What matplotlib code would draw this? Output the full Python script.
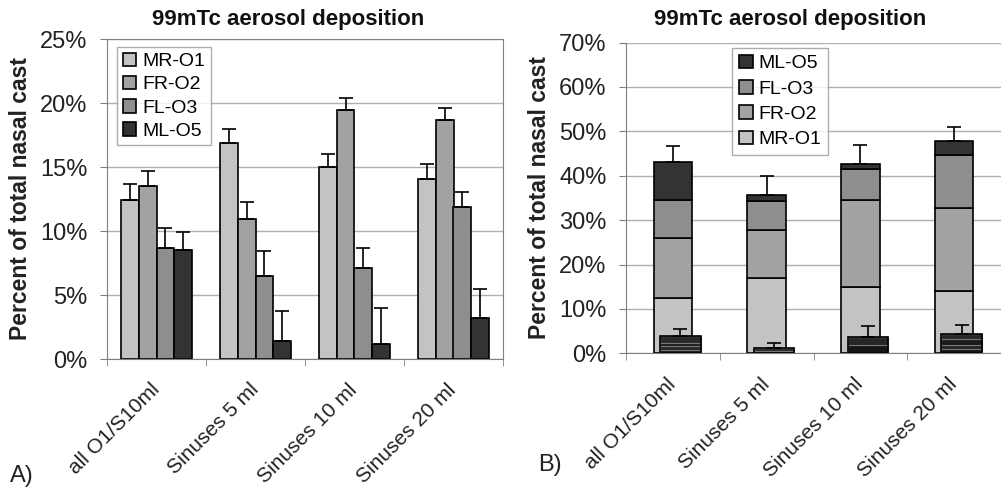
import numpy as np
import matplotlib
matplotlib.use("Agg")
import matplotlib.pyplot as plt
from matplotlib.ticker import PercentFormatter, FixedLocator

plt.rcParams['font.family'] = ['Liberation Sans', 'DejaVu Sans']

# data (percent of total nasal cast)
groups = ["all O1/S10ml", "Sinuses 5 ml", "Sinuses 10 ml", "Sinuses 20 ml"]
series = ["MR-O1", "FR-O2", "FL-O3", "ML-O5"]
mr_o1 = [12.4, 16.9, 15.0, 14.1]
fr_o2 = [13.5, 10.9, 19.45, 18.7]
fl_o3 = [8.7, 6.5, 7.1, 11.85]
ml_o5 = [8.5, 1.4, 1.15, 3.2]
mr_o1_err = [1.3, 1.1, 1.0, 1.1]
fr_o2_err = [1.2, 1.4, 0.95, 0.9]
fl_o3_err = [1.5, 1.9, 1.6, 1.2]
ml_o5_err = [1.4, 2.35, 2.85, 2.3]

# panel B: total error and small dark inset stack
total_err = [3.5, 4.2, 4.3, 3.1]
small_seg1 = [0.85, 0.55, 1.9, 0.9]
small_seg2 = [0.75, 0.55, 1.85, 1.05]
small_seg3 = [0.7, 0.0, 0.0, 1.2]
small_seg4 = [1.65, 0.0, 0.0, 1.2]
small_err = [1.55, 1.15, 2.4, 2.05]

colors = ['#c3c3c3', '#a2a2a2', '#8e8e8e', '#333333']
grid_c = '#b0b0b0'
spine_c = '#808080'

fig = plt.figure(figsize=(10.01, 4.92), dpi=100)

def style_axes(ax, ymax, step):
    ax.set_ylim(0, ymax)
    ax.yaxis.set_major_locator(FixedLocator(np.arange(0, ymax + 0.01, step)))
    ax.yaxis.set_major_formatter(PercentFormatter(decimals=0))
    ax.yaxis.grid(True, color=grid_c, lw=1)
    ax.set_axisbelow(True)
    for s in ['left', 'bottom', 'top', 'right']:
        ax.spines[s].set_color(spine_c)
    ax.spines['top'].set_visible(False)
    ax.spines['right'].set_visible(False)
    ax.tick_params(axis='y', direction='out', length=5, color=spine_c,
                   labelsize=17, labelcolor='#222222', pad=9)
    ax.set_xticks(np.arange(len(groups)))
    ax.set_xticklabels(groups, rotation=45, ha='right', va='center',
                       rotation_mode='anchor', fontsize=15, color='#222222')
    ax.tick_params(axis='x', length=0, pad=20)
    ax.set_xticks(np.arange(len(groups) + 1) - 0.5, minor=True)
    ax.tick_params(axis='x', which='minor', direction='out', length=5, color=spine_c)
    ax.set_ylabel('Percent of total nasal cast', fontsize=16.5, fontweight='bold',
                  color='#222222', labelpad=6)

# ---- panel A: grouped bars ----
axA = fig.add_axes([107 / 1001, 1 - 359 / 492, 396 / 1001, 320 / 492])
x = np.arange(len(groups))
w = 0.18
vals = [mr_o1, fr_o2, fl_o3, ml_o5]
errs = [mr_o1_err, fr_o2_err, fl_o3_err, ml_o5_err]
for i, (v, e) in enumerate(zip(vals, errs)):
    pos = x + (i - 1.5) * w
    axA.bar(pos, v, w, color=colors[i], edgecolor='black', lw=1.2, label=series[i])
    axA.errorbar(pos, v, yerr=[np.zeros(len(v)), e], fmt='none', ecolor='black',
                 elinewidth=1.2, capsize=5, capthick=1.2)
axA.set_xlim(-0.5, 3.5)
style_axes(axA, 25, 5)
axA.spines['top'].set_visible(True)
axA.spines['right'].set_visible(True)
legA = axA.legend(loc='upper left', bbox_to_anchor=(0.025, 0.975), fontsize=14,
                  frameon=True, fancybox=False, edgecolor='#999999',
                  handlelength=0.7, handleheight=0.7, handletextpad=0.3,
                  labelspacing=0.28, borderpad=0.3, borderaxespad=0)
for h in legA.legend_handles:
    h.set_edgecolor('black')

# ---- panel B: stacked bars ----
axB = fig.add_axes([626 / 1001, 1 - 353.3 / 492, 375 / 1001, 310.8 / 492])
wb = 0.41
bottom = np.zeros(len(groups))
for i, v in enumerate(vals):
    axB.bar(x, v, wb, bottom=bottom, color=colors[i], edgecolor='black', lw=1.2,
            label=series[i])
    bottom = bottom + np.array(v)
axB.errorbar(x, bottom, yerr=[np.zeros(len(groups)), total_err], fmt='none',
             ecolor='black', elinewidth=1.2, capsize=5, capthick=1.2)

# small dark stack in front
xs = x + 0.08
sb = np.zeros(len(groups))
small_colors = ['#151515', '#262626', '#1c1c1c', '#2a2a2a']
for i, seg in enumerate([small_seg1, small_seg2, small_seg3, small_seg4]):
    seg = np.array(seg)
    axB.bar(xs, seg, 0.43, bottom=sb, color=small_colors[i], edgecolor='#777777',
            lw=0.8)
    sb = sb + seg
axB.bar(xs, sb, 0.43, fill=False, edgecolor='black', lw=1.2)
axB.errorbar(xs, sb, yerr=[np.zeros(len(groups)), small_err], fmt='none',
             ecolor='black', elinewidth=1.2, capsize=5, capthick=1.2)

axB.set_xlim(-0.5, -0.5 + 375 / 96.7)
style_axes(axB, 70, 10)
hB, lB = axB.get_legend_handles_labels()
legB = axB.legend(hB[::-1], lB[::-1], loc='upper left',
                  bbox_to_anchor=(0.283, 0.983), fontsize=14,
                  frameon=True, fancybox=False, edgecolor='#999999',
                  handlelength=0.7, handleheight=0.7, handletextpad=0.3,
                  labelspacing=0.4, borderpad=0.35, borderaxespad=0)
for h in legB.legend_handles:
    h.set_edgecolor('black')

# titles and panel labels
fig.text(288 / 1001, 1 - 19 / 492, '99mTc aerosol deposition', ha='center',
         va='center', fontsize=16, fontweight='bold', color='#111111')
fig.text(790 / 1001, 1 - 19 / 492, '99mTc aerosol deposition', ha='center',
         va='center', fontsize=16, fontweight='bold', color='#111111')
fig.text(10 / 1001, 1 - 476 / 492, 'A)', ha='left', va='center', fontsize=17,
         color='#222222')
fig.text(538 / 1001, 1 - 465 / 492, 'B)', ha='left', va='center', fontsize=17,
         color='#222222')

fig.savefig('out.png', dpi=100)
